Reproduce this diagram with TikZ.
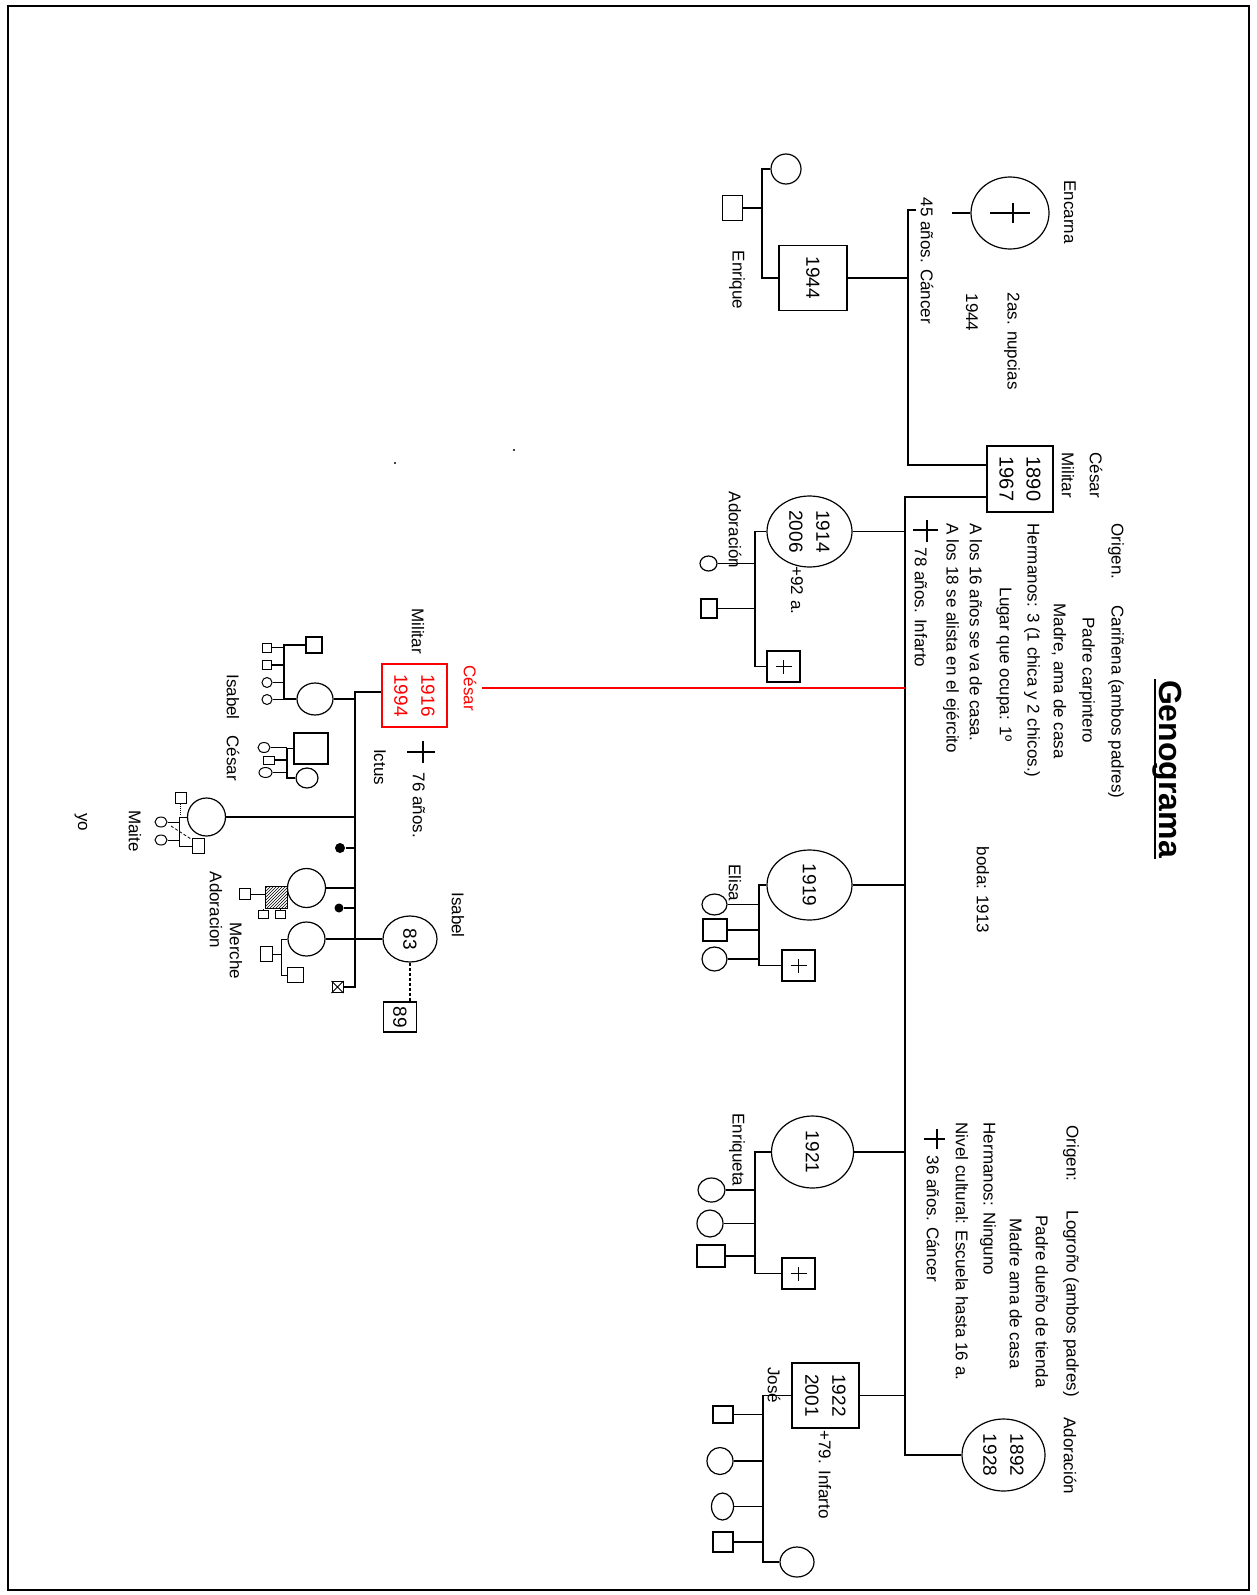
\documentclass[tikz,border=0pt]{standalone}
\usepackage{fontspec}
\setmainfont{Liberation Sans}
\usetikzlibrary{shapes.geometric,patterns}
\newcommand\gsqcross[1]{\draw ([xshift=-8pt]#1.center) -- ([xshift=8pt]#1.center) ([yshift=-7pt]#1.center) -- ([yshift=7pt]#1.center);}
\begin{document}
\begin{tikzpicture}[x=1pt,y=-1pt,line width=1.2pt,
  sq/.style={draw,rectangle,inner sep=0pt,fill=white},
  ci/.style={draw,ellipse,inner sep=0pt,fill=white},
  dotn/.style={fill,circle,inner sep=0pt,minimum size=10pt},
  txt/.style={rotate=-90,font=\fontsize{17}{27}\selectfont,inner sep=0pt},
  st/.style={txt,anchor=west},
  num/.style={rotate=-90,font=\fontsize{19}{27}\selectfont,inner sep=0pt,align=center},
  dots/.style={line width=1.1pt,dash pattern=on 3pt off 2pt}]
\useasboundingbox (0,0) rectangle (1256,1595);
\draw[line width=1.5pt] (8,6) rectangle (1249,1590);

% title
\node[rotate=-90,font=\bfseries\fontsize{32}{36}\selectfont,inner sep=0pt] (title) at (1167,769) {Genograma};
\draw[line width=2.5pt] ([xshift=-4pt]title.base west) -- ([xshift=-4pt]title.base east);

% tiny dots
\fill (514,450) circle (1.2);
\fill (395,463) circle (1.2);

% ---------------- first marriage
\node[ci,minimum width=78pt,minimum height=72pt] (enc) at (1010,213) {};
\draw (990,213) -- (1030,213) (1013,203) -- (1013,223);
\coordinate (encEnd) at (952,213);
\draw (enc.west) -- (encEnd);
\coordinate (s1tick) at (916,210);
\coordinate (s1t) at (908,210);
\coordinate (s1b) at (908,465);
\node[txt] (lEnc) at (1070,212) {Encarna};
\node[st] (lNup) at (1012,292) {2as. nupcias};
\node[st] (lNup44) at (972,293) {1944};
\node[st] (l45) at (927,197) {45 años. Cáncer};

\node[sq,minimum width=68pt,minimum height=65pt] (b44) at (813,278) {};
\node[num] (b44t) at (b44.center) {1944};
\node[ci,minimum size=30pt] (c44a) at (786,169) {};
\node[sq,minimum width=20pt,minimum height=25pt] (q44) at (732.5,208) {};
\coordinate (v44b) at (762,278);
\draw (c44a.west) -- (c44a.west -| v44b) -- (v44b) -- (b44.west);
\draw (q44.east) -- (q44.east -| v44b);
\draw (b44.east) -- (b44.east -| s1t);
\node[txt] (lEnr) at (737,280) {Enrique};

% ---------------- César 1890
\node[sq,minimum width=66pt,minimum height=66pt] (ces) at (1020,479) {};
\node[num,font=\fontsize{20}{27}\selectfont] (cest) at (ces.center) {1890\\1967};
\draw (s1tick) -- (s1t) -- (s1b) -- (s1b -| ces.west);
\node[txt] (lCes) at (1096,475) {César};
\node[txt] (lMil) at (1068,475) {Militar};

\coordinate (s2t) at (905,497);
\coordinate (s2b) at (905,1455);
\node[ci,minimum width=83pt,minimum height=72pt] (ado92) at (1003.5,1455) {};
\node[num] (ado92t) at (ado92.center) {1892\\1928};
\draw (ces.west |- s2t) -- (s2t) -- (s2b) -- (ado92.west);

% block 1
\node[st] (o1) at (1116,523) {Origen.};
\node[st] (o2) at (1116,605) {Cariñena (ambos padres)};
\node[st] (o3) at (1087,617) {Padre carpintero};
\node[st] (o4) at (1059,603) {Madre, ama de casa};
\node[st] (o5) at (1032,523) {Hermanos: 3 (1 chica y 2 chicos.)};
\node[st] (o6) at (1004,587) {Lugar que ocupa: 1º};
\node[st] (o7) at (976,523) {A los 16 años se va de casa.};
\node[st] (o8) at (951,523) {A los 18 se alista en el ejército};
\draw (913,530) -- (938,530) (927,520) -- (927,542);
\node[st] (o9) at (921,547) {78 años. Infarto};

% block 2
\node[st] (p1) at (1071,1125) {Origen:};
\node[st] (p2) at (1071,1210) {Logroño (ambos padres)};
\node[st] (p3) at (1042,1215) {Padre dueño de tienda};
\node[st] (p4) at (1016,1218) {Madre ama de casa};
\node[st] (p5) at (988,1122) {Hermanos: Ninguno};
\node[st] (p6) at (962,1122) {Nivel cultural: Escuela hasta 16 a.};
\draw (924,1139) -- (945,1139) (937,1129) -- (937,1149);
\node[st] (p7) at (933,1155) {36 años. Cáncer};
\node[st] (p8) at (1070,1417) {Adoración};
\node[txt] (boda) at (983,890) {boda: 1913};

% ---------------- Adoración 1914
\node[ci,minimum width=85pt,minimum height=71pt] (a14) at (809.5,531.5) {};
\node[num] (a14t) at (a14.center) {1914\\2006};
\draw (a14.east) -- (a14.east -| s2t);
\node[st] (a14d) at (797,566) {+92 a.};
\node[ci,minimum width=17pt,minimum height=15pt] (a14c1) at (708.5,563.5) {};
\node[sq,minimum width=16pt,minimum height=19pt] (a14q) at (709,608.5) {};
\node[sq,minimum width=33pt,minimum height=31pt] (a14x) at (783.5,666.5) {};
\gsqcross{a14x}
\coordinate (va14) at (755,666.5);
\draw (a14.west) -- (a14.west -| va14) -- (va14) -- (a14x.west);
\draw (a14c1.east) -- (a14c1.east -| va14);
\draw (a14q.east) -- (a14q.east -| va14);
\node[txt] (la14) at (735,530) {Adoración};

% ---------------- Elisa 1919
\node[ci,minimum width=85pt,minimum height=70pt] (e19) at (809.5,885) {};
\node[num] (e19t) at (e19.center) {1919};
\draw (e19.east) -- (e19.east -| s2t);
\node[ci,minimum width=25pt,minimum height=21pt] (ec1) at (714.5,904.5) {};
\node[sq,minimum width=24pt,minimum height=22pt] (eq) at (715,930) {};
\node[ci,minimum width=25pt,minimum height=24pt] (ec2) at (714.5,959) {};
\node[sq,minimum width=33pt,minimum height=31pt] (ex) at (798.5,965.5) {};
\gsqcross{ex}
\coordinate (ve) at (759,965.5);
\draw (e19.west) -- (e19.west -| ve) -- (ve) -- (ex.west);
\draw (ec1.east) -- (ec1.east -| ve);
\draw (eq.east) -- (eq.east -| ve);
\draw (ec2.east) -- (ec2.east -| ve);
\node[txt] (le) at (735,883) {Elisa};

% ---------------- Enriqueta 1921
\node[ci,minimum width=82pt,minimum height=72pt] (n21) at (812.5,1152) {};
\node[num] (n21t) at (n21.center) {1921};
\draw (n21.east) -- (n21.east -| s2t);
\node[ci,minimum width=27pt,minimum height=24pt] (nc1) at (711.5,1190) {};
\node[ci,minimum width=26pt,minimum height=27pt] (nc2) at (710,1223.5) {};
\node[sq,minimum width=28pt,minimum height=22pt] (nq) at (711,1256) {};
\node[sq,minimum width=33pt,minimum height=31pt] (nx) at (798.5,1273.5) {};
\gsqcross{nx}
\coordinate (vn) at (755,1273.5);
\draw (n21.west) -- (n21.west -| vn) -- (vn) -- (nx.west);
\draw (nc1.east) -- (nc1.east -| vn);
\draw (nc2.east) -- (nc2.east -| vn);
\draw (nq.east) -- (nq.east -| vn);
\node[txt] (ln) at (737,1150) {Enriqueta};

% ---------------- José 1922
\node[sq,minimum width=67pt,minimum height=65pt] (j22) at (825.5,1395.5) {};
\node[num] (j22t) at (j22.center) {1922\\2001};
\draw (j22.east) -- (j22.east -| s2t);
\node[st] (j22d) at (825,1430) {+79. Infarto};
\node[txt,fill=white,inner sep=1pt] (lj) at (774,1385) {José};
\node[sq,minimum width=20pt,minimum height=17pt] (jq1) at (723,1414.5) {};
\node[ci,minimum width=26pt,minimum height=27pt] (jc1) at (720,1461) {};
\node[ci,minimum width=22pt,minimum height=27pt] (jc2) at (722.5,1506.5) {};
\node[sq,minimum width=20pt,minimum height=20pt] (jq2) at (723,1542) {};
\node[ci,minimum width=34pt,minimum height=30pt] (jc3) at (797,1562) {};
\coordinate (vj) at (763,1562);
\draw (j22.west) -- (j22.west -| vj) -- (vj) -- (jc3.west);
\draw (jq1.east) -- (jq1.east -| vj);
\draw (jc1.east) -- (jc1.east -| vj);
\draw (jc2.east) -- (jc2.east -| vj);
\draw (jq2.east) -- (jq2.east -| vj);

% ---------------- César 1916 (red)
\node[sq,draw=red,minimum width=65pt,minimum height=63pt] (rc) at (414.5,695.5) {};
\node[num,text=red] (rct) at (rc.center) {1916\\1994};
\node[txt,text=red] (lrc) at (470,688) {César};
\coordinate (redEnd) at (482,688);
\draw[red] (redEnd) -- (redEnd -| s2t);
\node[txt] (lrcm) at (418,631) {Militar};
\node[txt] (lict) at (380,767) {Ictus};
\draw (407,752) -- (435,752) (423,741) -- (423,763);
\node[st] (l76) at (419,772) {76 años.};

\coordinate (s3t) at (355,692);
\coordinate (s3b) at (355,987);
\node[sq,minimum size=11pt,line width=1pt] (xb) at (337.5,987) {};
\draw[line width=0.8pt] (xb.north west) -- (xb.south east) (xb.north east) -- (xb.south west);
\draw (rc.west |- s3t) -- (s3t) -- (s3b) -- (xb.east);

% Isabel (wife) group
\node[ci,minimum width=36pt,minimum height=32pt] (iw) at (315,699) {};
\draw (iw.east) -- (iw.east -| s3t);
\node[sq,minimum size=16pt] (iq) at (314,645) {};
\node[sq,minimum size=9pt,line width=1pt] (is1) at (266.5,647.5) {};
\node[sq,minimum size=9pt,line width=1pt] (is2) at (266.5,665) {};
\node[ci,minimum size=10pt,line width=1pt] (ic1) at (267,682.5) {};
\node[ci,minimum size=10pt,line width=1pt] (ic2) at (267,699.5) {};
\coordinate (vi) at (284,699);
\draw (iq.west) -- (iq.west -| vi) -- (vi) -- (iw.west);
\draw (is1.east) -- (is1.east -| vi);
\draw (is2.east) -- (is2.east -| vi);
\draw (ic1.east) -- (ic1.east -| vi);
\draw (ic2.east) -- (ic2.east -| vi);
\node[txt] (lis) at (233,697) {Isabel};

% César (child) group
\node[sq,minimum width=34pt,minimum height=31pt] (cq) at (311,748.5) {};
\node[ci,minimum width=22pt,minimum height=20pt] (cc) at (307,778) {};
\node[ci,minimum width=12pt,minimum height=10pt,line width=1pt] (cs1) at (264,747.5) {};
\node[sq,minimum width=11pt,minimum height=8pt,line width=1pt] (cs2) at (268.5,760) {};
\node[ci,minimum width=13pt,minimum height=10pt,line width=1pt] (cs3) at (265.5,772.5) {};
\coordinate (vc) at (287,778);
\draw (cq.west) -- (cq.west -| vc) -- (vc) -- (cc.west);
\draw (cs1.east) -- (cs1.east -| vc);
\draw (cs2.east) -- (cs2.east -| vc);
\draw (cs3.east) -- (cs3.east -| vc);
\node[txt] (lcs) at (233,758) {César};

% Maite
\node[ci,minimum size=38pt] (m) at (206.5,817) {};
\draw (m.east) -- (m.east -| s3t);
\node[sq,minimum size=11pt,line width=1pt] (mq) at (180.5,797.5) {};
\draw[line width=1pt,densely dotted] (mq.south) -- ++(0,12);
\node[ci,minimum width=12pt,minimum height=10pt,line width=1pt] (mc1) at (161,822) {};
\node[ci,minimum width=12pt,minimum height=10pt,line width=1pt] (mc2) at (161,840) {};
\node[sq,minimum width=12pt,minimum height=15pt,line width=1pt] (mq2) at (198,846) {};
\coordinate (vm) at (179,846);
\draw[line width=1pt] (m.west) -- (m.west -| vm) -- (vm) -- (mq2.west);
\draw[line width=1pt] (mc1.east) -- (mc1.east -| vm);
\draw[line width=1pt] (mc2.east) -- (mc2.east -| vm);
\draw[line width=0.8pt,densely dashed] (171,826) -- (191,839);
\node[txt] (lma) at (135,831) {Maite};
\node[txt] (lyo) at (81,822) {yo};

% dots
\node[dotn] (d1) at (340,848) {};
\draw (d1.east) -- (d1.east -| s3t);
\node[dotn,minimum size=9pt] (d2) at (339,908) {};
\draw (d2.east) -- (d2.east -| s3t);

% Adoración (child) group
\node[ci,minimum width=38pt,minimum height=39pt] (ad) at (306.5,888) {};
\draw (ad.east) -- (ad.east -| s3t);
\node[sq,minimum width=22pt,minimum height=22pt,pattern=north east lines,line width=1pt] (ah) at (276,897) {};
\node[sq,minimum size=11pt,line width=1pt] (aq) at (245,894) {};
\draw[line width=1pt] (aq.east) -- (aq.east -| ah.west);
\node[sq,minimum width=10pt,minimum height=8pt,line width=1pt] (aq2) at (263,914) {};
\node[sq,minimum width=10pt,minimum height=8pt,line width=1pt] (aq3) at (280,914) {};
\draw[line width=1pt] (aq2.north) -- (aq2.north |- ah.south);
\draw[line width=1pt] (aq3.north) -- (aq3.north |- ah.south);
\node[txt] (lad) at (216,910) {Adoracion};

% Merche group + Isabel 83
\node[ci,minimum width=37pt,minimum height=34pt] (me) at (306.5,939) {};
\node[ci,minimum width=54pt,minimum height=46pt] (i83) at (410,939) {};
\node[num] (i83t) at (i83.center) {83};
\draw (me.east) -- (i83.west);
\node[sq,minimum width=33pt,minimum height=30pt] (b89) at (400,1017) {};
\node[num] (b89t) at (b89.center) {89};
\draw[dots] (i83.south) -- (i83.south |- b89.north);
\node[txt] (l83) at (458,915) {Isabel};
\node[sq,minimum width=12pt,minimum height=15pt,line width=1pt] (mr1) at (266,954) {};
\node[sq,minimum width=16pt,minimum height=15pt,line width=1pt] (mr2) at (295,975) {};
\coordinate (vme) at (281,975);
\draw[line width=1pt] (me.west) -- (me.west -| vme) -- (vme) -- (mr2.west);
\draw[line width=1pt] (mr1.east) -- (mr1.east -| vme);
\node[txt] (lme) at (236,951) {Merche};
\end{tikzpicture}
\end{document}
